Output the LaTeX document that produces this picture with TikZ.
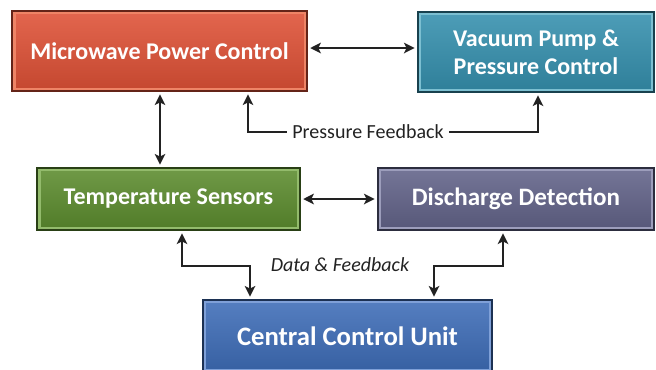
\documentclass[tikz,border=0pt]{standalone}
\usepackage{fontspec}
\setmainfont{Carlito}
\usetikzlibrary{arrows.meta}

\definecolor{mwred}{HTML}{DF5136}
\definecolor{mwredlt}{HTML}{EE8466}
\definecolor{vpteal}{HTML}{3590AE}
\definecolor{vptealt}{HTML}{7CBFD1}
\definecolor{tsgreen}{HTML}{5C8C2E}
\definecolor{tsgreenlt}{HTML}{93BB6C}
\definecolor{ddslate}{HTML}{626389}
\definecolor{ddslatelt}{HTML}{9C9DBB}
\definecolor{ccublue}{HTML}{3E6DB8}
\definecolor{ccubluelt}{HTML}{7FA0D8}
\definecolor{linkgray}{HTML}{222222}

\tikzset{
  blk/.style 2 args={draw=#1!45!black, line width=1.1pt,
    top color=#1!88!white, bottom color=#1!88!black,
    path picture={\draw[#2, line width=5pt] (path picture bounding box.north west) rectangle (path picture bounding box.south east);},
    text=white, font=\bfseries\fontsize{18}{21}\selectfont, align=center, inner sep=0pt},
  lbl/.style={text=linkgray, font=\fontsize{15}{17}\selectfont, inner sep=4pt},
  link/.style={{Stealth[length=8pt,width=8pt,inset=2pt]}-{Stealth[length=8pt,width=8pt,inset=2pt]}, line width=1.4pt, draw=linkgray, shorten >=2pt, shorten <=2pt},
  feed/.style={-{Stealth[length=8pt,width=8pt,inset=2pt]}, line width=1.4pt, draw=linkgray, shorten >=2pt}
}

\begin{document}
\begin{tikzpicture}[x=0.75pt,y=0.75pt,yscale=-1,xscale=1]
	\useasboundingbox (0,0) rectangle (656,369);

	%Shape: Rectangle [microwave power]
	\node [blk={mwred}{mwredlt}, minimum width=221pt, minimum height=60pt] (mpc) at (159.5,51) {Microwave Power Control};
	%Shape: Rectangle [vacuum pump]
	\node [blk={vpteal}{vptealt}, minimum width=177pt, minimum height=60pt] (vpc) at (536,52) {Vacuum Pump \&\\Pressure Control};
	%Shape: Rectangle [temperature]
	\node [blk={tsgreen}{tsgreenlt}, minimum width=197pt, minimum height=46.5pt] (ts) at (168.5,199) {Temperature Sensors};
	%Shape: Rectangle [discharge]
	\node [blk={ddslate}{ddslatelt}, minimum width=207pt, minimum height=46.5pt, font=\bfseries\fontsize{18.8}{21}\selectfont] (dd) at (516,199) {Discharge Detection};
	%Shape: Rectangle [central unit]
	\node [blk={ccublue}{ccubluelt}, minimum width=217pt, minimum height=54pt, font=\bfseries\fontsize{20}{23}\selectfont] (ccu) at (347.5,336) {Central Control Unit};

	% Text Node
	\node [lbl] (pf) at (368,132) {Pressure Feedback};
	% Text Node
	\node [lbl, font=\itshape\fontsize{15}{17}\selectfont] (df) at (340,265) {Data \& Feedback};

	%Straight Lines
	\draw [link] (mpc.east |- 0,48) -- (vpc.west |- 0,48);
	\draw [link] (mpc.south -| 160,0) -- (ts.north -| 160,0);
	\draw [link] (ts.east) -- (dd.west);
	%Feedback Lines
	\draw [feed] (pf.west) -| (248,0 |- mpc.south);
	\draw [feed] (pf.east) -| (538,0 |- vpc.south);
	\draw [link] (182,0 |- ts.south) -- (182,266) -| (250,0 |- ccu.north);
	\draw [link] (503,0 |- dd.south) -- (503,266) -| (434,0 |- ccu.north);
\end{tikzpicture}
\end{document}
